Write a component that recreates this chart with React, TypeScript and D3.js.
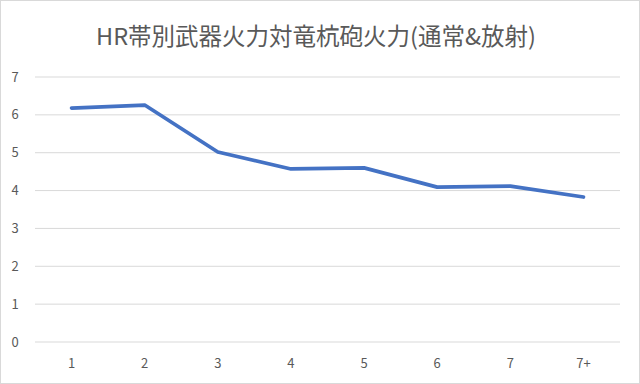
import React from "react";
import * as d3 from "d3";

const categories = ["1", "2", "3", "4", "5", "6", "7", "7+"];
const values = [6.18, 6.26, 5.02, 4.57, 4.6, 4.09, 4.12, 3.83];
const yTicks = [0, 1, 2, 3, 4, 5, 6, 7];
const title = "HR帯別武器火力対竜杭砲火力(通常&放射)";

export default function App() {
  const W = 640, H = 384;
  const left = 35, right = 620, top = 77, bottom = 342;
  const x = d3.scaleBand<string>().domain(categories).range([left, right]);
  const y = d3.scaleLinear().domain([0, 7]).range([bottom, top]);
  const line = d3
    .line<number>()
    .x((_, i) => (x(categories[i]) as number) + x.bandwidth() / 2)
    .y((d) => y(d));
  const font = "'Noto Sans CJK JP', 'Noto Sans', sans-serif";
  return (
    <svg width={W} height={H} style={{ position: "absolute", left: 0, top: 0 }}>
      <rect x={0.5} y={0.5} width={W - 1} height={H - 1} fill="#fff" stroke="#d9d9d9" />
      <text x={316} y={45} textAnchor="middle" fontSize={23.5} fill="#595959" fontFamily={font}>
        {title}
      </text>
      {yTicks.map((t) => (
        <g key={t}>
          <line x1={left} x2={right} y1={y(t)} y2={y(t)} stroke="#d9d9d9" strokeWidth={1} />
          <text x={15} y={y(t)} dy="0.35em" textAnchor="middle" fontSize={13} fill="#595959" fontFamily={font}>
            {t}
          </text>
        </g>
      ))}
      {categories.map((c) => (
        <text
          key={c}
          x={(x(c) as number) + x.bandwidth() / 2}
          y={363}
          dy="0.35em"
          textAnchor="middle"
          fontSize={13}
          fill="#595959"
          fontFamily={font}
        >
          {c}
        </text>
      ))}
      <path d={line(values) || ""} fill="none" stroke="#4472C4" strokeWidth={3.75} strokeLinejoin="round" strokeLinecap="round" />
    </svg>
  );
}
